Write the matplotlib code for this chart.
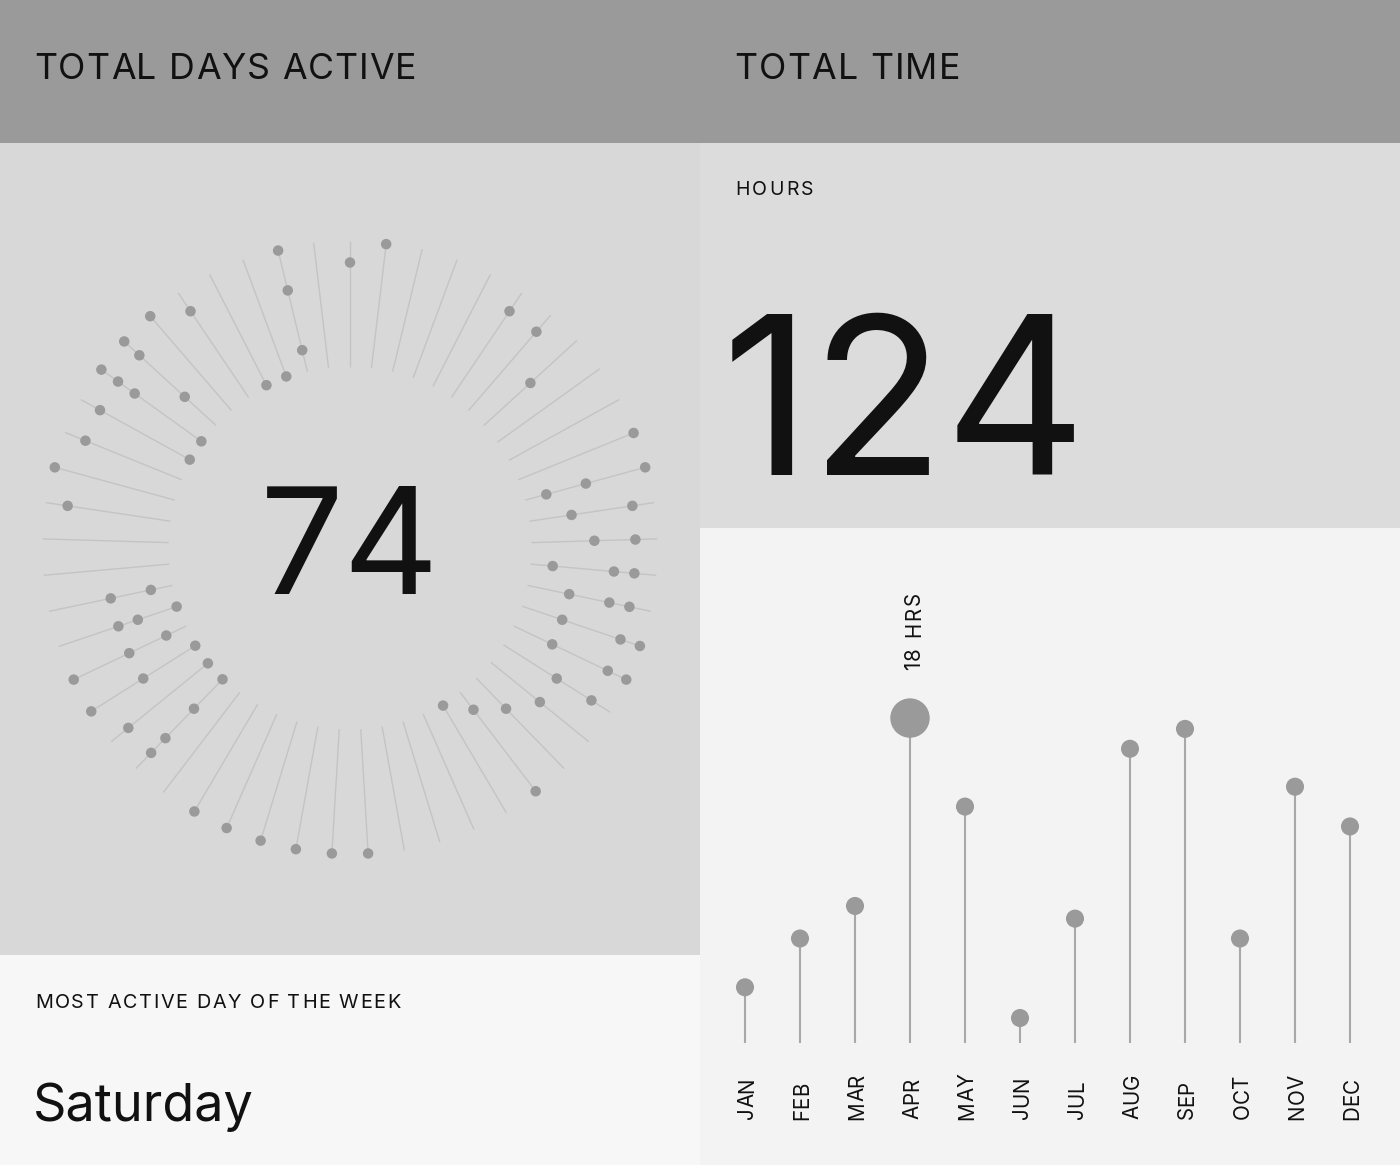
import numpy as np
import matplotlib
matplotlib.use("Agg")
import matplotlib.pyplot as plt
from matplotlib.patches import Rectangle
from matplotlib.font_manager import FontProperties, findfont
from matplotlib.textpath import TextPath
from matplotlib import ft2font

# ---------------- data ----------------
total_days = 74
total_hours = 124
most_active_day = "Saturday"
n_weeks = 53
# each active day: week of the year (spoke) and day-of-week (ring position)
active_week = [0, 1, 5, 6, 7, 10, 11, 11, 11, 12, 12, 13, 13,
               14, 14, 14, 15, 15, 15, 16, 16, 16, 17, 17, 17, 18, 18,
               19, 20, 21, 21, 22, 26, 27, 28, 29, 30, 31,
               33, 33, 33, 33, 34, 34, 35, 35, 35, 36, 36, 36, 37, 37, 37,
               38, 38, 41, 42, 43, 44, 44, 45, 45, 45, 45, 46, 46, 46,
               47, 48, 49, 50, 51, 51, 51]
active_day = [5, 6, 5, 5, 3, 6, 6, 3, 1, 5, 2, 3, 5,
              1, 4, 5, 2, 4, 5, 2, 5, 6, 2, 5, 6, 3, 5,
              3, 2, 1, 6, 0, 6, 6, 6, 6, 6, 6,
              0, 2, 4, 5, 0, 5, 0, 3, 6, 1, 3, 6, 0, 2, 3,
              1, 3, 5, 6, 5, 5, 0, 6, 5, 4, 0, 6, 5, 2,
              6, 5, 0, 0, 6, 4, 1]
months = ["JAN", "FEB", "MAR", "APR", "MAY", "JUN",
          "JUL", "AUG", "SEP", "OCT", "NOV", "DEC"]
month_hours = [3.1, 5.8, 7.6, 18.0, 13.1, 1.4, 6.9, 16.3, 17.4, 5.8, 14.2, 12.0]

# ---------------- style / layout ----------------
W, H = 1400, 1165
FONT = "Inter"
INK = "#111111"
plt.rcParams["font.family"] = [FONT, "DejaVu Sans"]

fig = plt.figure(figsize=(W / 100, H / 100), dpi=100)
fig.patch.set_facecolor("#f3f3f3")

bg = fig.add_axes([0, 0, 1, 1])
bg.set_xlim(0, W)
bg.set_ylim(H, 0)
bg.axis("off")

for (x, y, w, h, c) in [(0, 0, 1400, 143, "#9a9a9a"),
                        (0, 143, 700, 812, "#d8d8d8"),
                        (0, 955, 700, 210, "#f7f7f7"),
                        (700, 143, 700, 385, "#dcdcdc"),
                        (700, 528, 700, 637, "#f3f3f3")]:
    bg.add_patch(Rectangle((x, y), w, h, facecolor=c, edgecolor="none", zorder=0))

# ---------------- text helpers (pixel-accurate, letter-spaced) ----------------
FP = FontProperties(family=FONT)
PX = 100 / 72
_ft = ft2font.FT2Font(findfont(FP))
try:
    _NOH = ft2font.LoadFlags.NO_HINTING
except AttributeError:
    _NOH = ft2font.LOAD_NO_HINTING
try:
    _KD = ft2font.Kerning.DEFAULT
except AttributeError:
    _KD = ft2font.KERNING_DEFAULT


def _ink(s, size):
    e = TextPath((0, 0), s, size=size, prop=FP).get_extents()
    return e.x0 * PX, e.x1 * PX, e.y0 * PX, e.y1 * PX


CAP_RATIO = _ink("H", 100)[3] / (100 * PX)


def size_for_cap(cap_px):
    return cap_px / (CAP_RATIO * PX)


def _pens(s, size):
    _ft.set_size(size, 100)
    pens, pos, prev = [], 0.0, None
    for ch in s:
        gi = _ft.get_char_index(ord(ch))
        if prev is not None:
            pos += _ft.get_kerning(prev, gi, _KD) / 64.0
        pens.append(pos)
        g = _ft.load_char(ord(ch), flags=_NOH)
        pos += g.linearHoriAdvance / 65536.0
        prev = gi
    return pens


def tracked(x, y, s, cap_px, width=None, rotation=0):
    """x,y: ink start and baseline (rotation 0) or baseline x and ink start y
    (rotation 90, reading upward) in pixel coordinates."""
    size = size_for_cap(cap_px)
    pens = _pens(s, size)
    lsb0 = _ink(s[0], size)[0]
    natural = pens[-1] + _ink(s[-1], size)[1] - lsb0
    tr = 0.0 if (width is None or len(s) < 2) else (width - natural) / (len(s) - 1)
    for i, ch in enumerate(s):
        if ch == " ":
            continue
        along = pens[i] + i * tr - lsb0
        if rotation == 0:
            bg.text(x + along, y, ch, fontsize=size, ha="left", va="baseline",
                    color=INK, zorder=3)
        else:
            bg.text(x, y - along, ch, fontsize=size, rotation=90,
                    rotation_mode="anchor", ha="left", va="baseline",
                    color=INK, zorder=3)


def plain(x, y, s, cap_px):
    """single text object, ink starting at x, baseline at y (pixels)."""
    size = size_for_cap(cap_px)
    lsb = _ink(s, size)[0]
    bg.text(x - lsb, y, s, fontsize=size, ha="left", va="baseline",
            color=INK, zorder=3)


tracked(35.7, 79.3, "TOTAL DAYS ACTIVE", 26, 378.6)
tracked(736, 79.3, "TOTAL TIME", 26, 222)
tracked(736.7, 195, "HOURS", 14.2, 76)
tracked(36.7, 1007.7, "MOST ACTIVE DAY OF THE WEEK", 14.4, 363.3)

plain(266.7, 594, str(total_days), 108)
plain(732.3, 475, str(total_hours), 160)
plain(35.7, 1120.7, most_active_day, 38)

# ---------------- radial week/day chart ----------------
R = 330
cx, cy = 350, 548
axp = fig.add_axes([(cx - R) / W, (H - (cy + R)) / H, 2 * R / W, 2 * R / H],
                   projection="polar")
axp.set_theta_zero_location("N")
axp.set_theta_direction(-1)
axp.set_ylim(0, R)
axp.set_axis_off()

r_in, r_step = 183, 20.5
spoke_theta = np.arange(n_weeks) * 2 * np.pi / n_weeks
for t in spoke_theta:
    axp.plot([t, t], [r_in - 1.5, r_in + 6 * r_step + 1.5],
             color="#c4c4c4", lw=1.0, solid_capstyle="butt", zorder=1)

theta = np.array(active_week) * 2 * np.pi / n_weeks
rad = r_in + np.array(active_day) * r_step
axp.scatter(theta, rad, s=57, color="#9a9a9a", edgecolors="none", zorder=2)

# ---------------- monthly lollipop chart ----------------
x0, dx = 745, 55          # px of first month, px per month
base, sc = 1043.3, 18.07  # px of zero, px per hour
axl = fig.add_axes([700 / W, 0, 700 / W, (H - 528) / H])
axl.set_xlim((700 - x0) / dx, (1400 - x0) / dx)
axl.set_ylim(-(H - base) / sc, (base - 528) / sc)
axl.axis("off")

xs = np.arange(len(months))
vals = np.array(month_hours)
imax = int(np.argmax(vals))
axl.vlines(xs, 0, vals, color="#a8a8a8", lw=1.5, zorder=1)
sizes = np.where(xs == imax, 806, 169)
axl.scatter(xs, vals, s=sizes, color="#9a9a9a", edgecolors="none", zorder=2)

LAB_CAP = 15
for i, m in enumerate(months):
    px_x, _ = axl.transData.transform((i, 0))
    tracked(px_x + LAB_CAP / 2 + 0.8, 1118, m, LAB_CAP, rotation=90)

px_x, px_y = axl.transData.transform((imax, vals[imax]))
tracked(px_x + LAB_CAP / 2 + 2.5, (H - px_y) - 49, f"{vals[imax]:.0f} HRS",
        LAB_CAP, 76, rotation=90)

fig.savefig("out.png", dpi=100, facecolor=fig.get_facecolor())
